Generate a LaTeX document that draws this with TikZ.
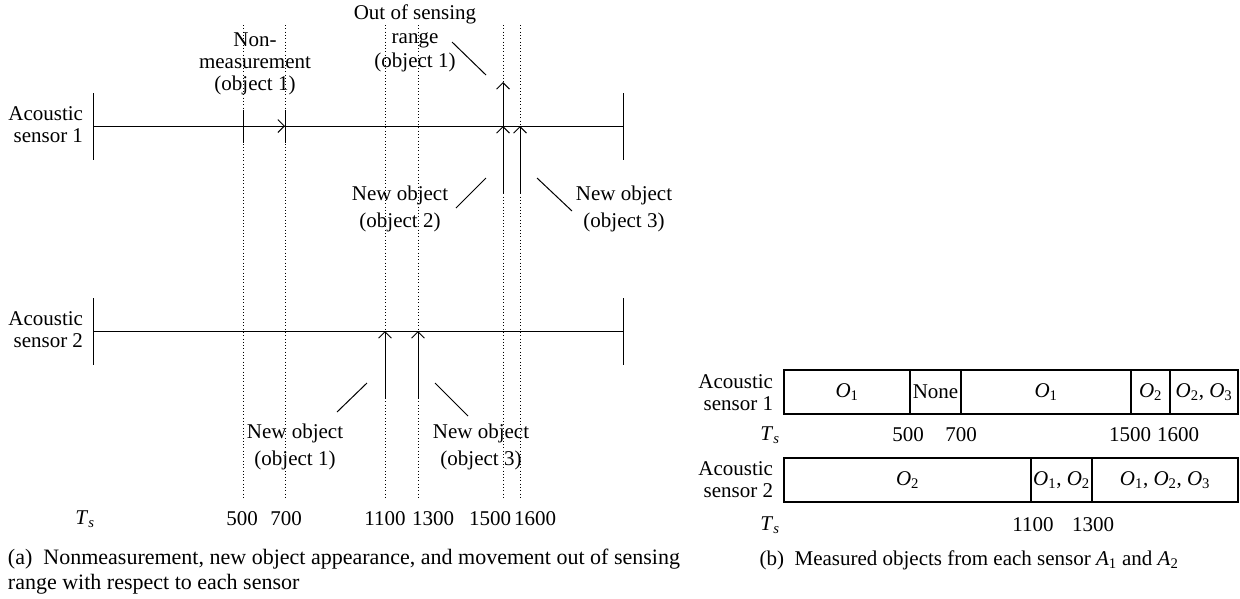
\documentclass[tikz,border=0pt]{standalone}
\usepackage{fontspec}
\setmainfont{Liberation Serif}
\usetikzlibrary{arrows.meta}
\newcommand{\Ob}[1]{\textit{O}\textsubscript{#1}}
\newcommand{\Tsym}{\textit{T}\textsubscript{\textit{s}}}
\newcommand{\Asym}[1]{\textit{A}\textsubscript{#1}}
\begin{document}
\begin{tikzpicture}[x=1pt,y=-1pt,
  txt/.style={font=\fontsize{21}{22}\selectfont, inner sep=0pt, outer sep=0pt},
  axis/.style={line width=1pt},
  guide/.style={line width=0.9pt, dash pattern=on 0.9pt off 2.4pt},
  evt/.style={line width=1pt, -{Straight Barb[length=6.5pt,width=13pt,line width=0.9pt]}},
  leader/.style={line width=1pt},
  cell/.style={draw, line width=1.6pt, inner sep=0pt, outer sep=0pt, minimum height=44pt,
     anchor=north west, font=\fontsize{21}{22}\selectfont}
]
\useasboundingbox (0,0) rectangle (1240,598);

% ---------------- panel (a) ----------------
% guide lines
\foreach \x/\n in {243/g500,285/g700,385/g1100,418/g1300,503/g1500,520/g1600}{
  \coordinate (\n t) at (\x,25);
  \coordinate (\n b) at (\x,498);
  \draw[guide] (\n t) -- (\n b);
}
% sensor 1
\coordinate (s1L) at (93,126);
\coordinate (s1R) at (623,126);
\draw[axis] (s1L) -- (s1R);
\draw[axis] (93,93) -- (93,160);
\draw[axis] (623,93) -- (623,160);
\draw[axis] (243,110) -- (243,143);
\draw[axis] (285,110) -- (285,143);
\coordinate (nm0) at (243,126);
\coordinate (nm1) at (285,126);
\draw[evt] (nm0) -- (nm1);
\coordinate (out0) at (503,126);
\coordinate (out1) at (503,82);
\draw[evt] (out0) -- (out1);
\coordinate (n2a) at (503,193);
\coordinate (n3a) at (520,193);
\draw[evt] (n2a) -- (503,126);
\draw[evt] (n3a) -- (520,126);

% sensor 2
\coordinate (s2L) at (93,331);
\coordinate (s2R) at (623,331);
\draw[axis] (s2L) -- (s2R);
\draw[axis] (93,298) -- (93,365);
\draw[axis] (623,298) -- (623,365);
\coordinate (m1a) at (385,399);
\coordinate (m3a) at (418,399);
\draw[evt] (m1a) -- (385,331);
\draw[evt] (m3a) -- (418,331);

% labels
\node[txt, anchor=east, align=right] (lab1) at (83,125) {Acoustic\\sensor 1};
\node[txt, anchor=east, align=right] (lab2) at (83,330) {Acoustic\\sensor 2};
\node[txt, align=center] (tnm) at (255,64) {Non-\\measurement\\(object 1)};
\node[txt, align=center] (tout) at (415,38) {Out of sensing\\[2pt]range\\[2pt](object 1)};
\node[txt, align=center] (tn2) at (400,209) {New object\\[5pt](object 2)};
\node[txt, align=center] (tn3) at (624,209) {New object\\[5pt](object 3)};
\node[txt, align=center] (tm1) at (295,447) {New object\\[5pt](object 1)};
\node[txt, align=center] (tm3) at (481,447) {New object\\[5pt](object 3)};

% leaders
\coordinate (l1a) at (452,42); \coordinate (l1b) at (486,75);
\draw[leader] (l1a) -- (l1b);
\coordinate (l2a) at (486,178); \coordinate (l2b) at (456,208);
\draw[leader] (l2a) -- (l2b);
\coordinate (l3a) at (537,178); \coordinate (l3b) at (572,211);
\draw[leader] (l3a) -- (l3b);
\coordinate (l4a) at (367,383); \coordinate (l4b) at (337,412);
\draw[leader] (l4a) -- (l4b);
\coordinate (l5a) at (435,383); \coordinate (l5b) at (468,416);
\draw[leader] (l5a) -- (l5b);

% time axis
\node[txt] (tsa) at (85,519) {\Tsym};
\node[txt] (a500) at (242,519) {500};
\node[txt] (a700) at (286,519) {700};
\node[txt] (a1100) at (385,519) {1100};
\node[txt] (a1300) at (433,519) {1300};
\node[txt] (a1500) at (490,519) {1500};
\node[txt] (a1600) at (535,519) {1600};

\node[txt, anchor=north west, align=left, font=\fontsize{22}{25}\selectfont] (capa) at (8,549)
  {(a)\enspace Nonmeasurement, new object appearance, and movement out of sensing\\range with respect to each sensor};

% ---------------- panel (b) ----------------
\node[txt, anchor=east, align=right] (blab1) at (773,393) {Acoustic\\sensor 1};
\node[cell, minimum width=126pt] (c11) at (784,370) {\Ob{1}};
\node[cell, minimum width=51pt] (c12) at (c11.north east) {None};
\node[cell, minimum width=170pt] (c13) at (c12.north east) {\Ob{1}};
\node[cell, minimum width=39pt] (c14) at (c13.north east) {\Ob{2}};
\node[cell, minimum width=68pt] (c15) at (c14.north east) {\Ob{2}, \Ob{3}};

\node[txt] (tsb1) at (770,435) {\Tsym};
\node[txt] (b500) at (908,435) {500};
\node[txt] (b700) at (961,435) {700};
\node[txt] (b1500) at (1130,435) {1500};
\node[txt] (b1600) at (1178,435) {1600};

\node[txt, anchor=east, align=right] (blab2) at (773,480) {Acoustic\\sensor 2};
\node[cell, minimum width=247pt] (c21) at (784,458) {\Ob{2}};
\node[cell, minimum width=61pt] (c22) at (c21.north east) {\Ob{1}, \Ob{2}};
\node[cell, minimum width=146pt] (c23) at (c22.north east) {\Ob{1}, \Ob{2}, \Ob{3}};

\node[txt] (tsb2) at (770,525) {\Tsym};
\node[txt] (b1100) at (1033,525) {1100};
\node[txt] (b1300) at (1093,525) {1300};

\node[txt] (capb) at (969,560) {(b)\enspace Measured objects from each sensor \Asym{1} and \Asym{2}};
\end{tikzpicture}
\end{document}
